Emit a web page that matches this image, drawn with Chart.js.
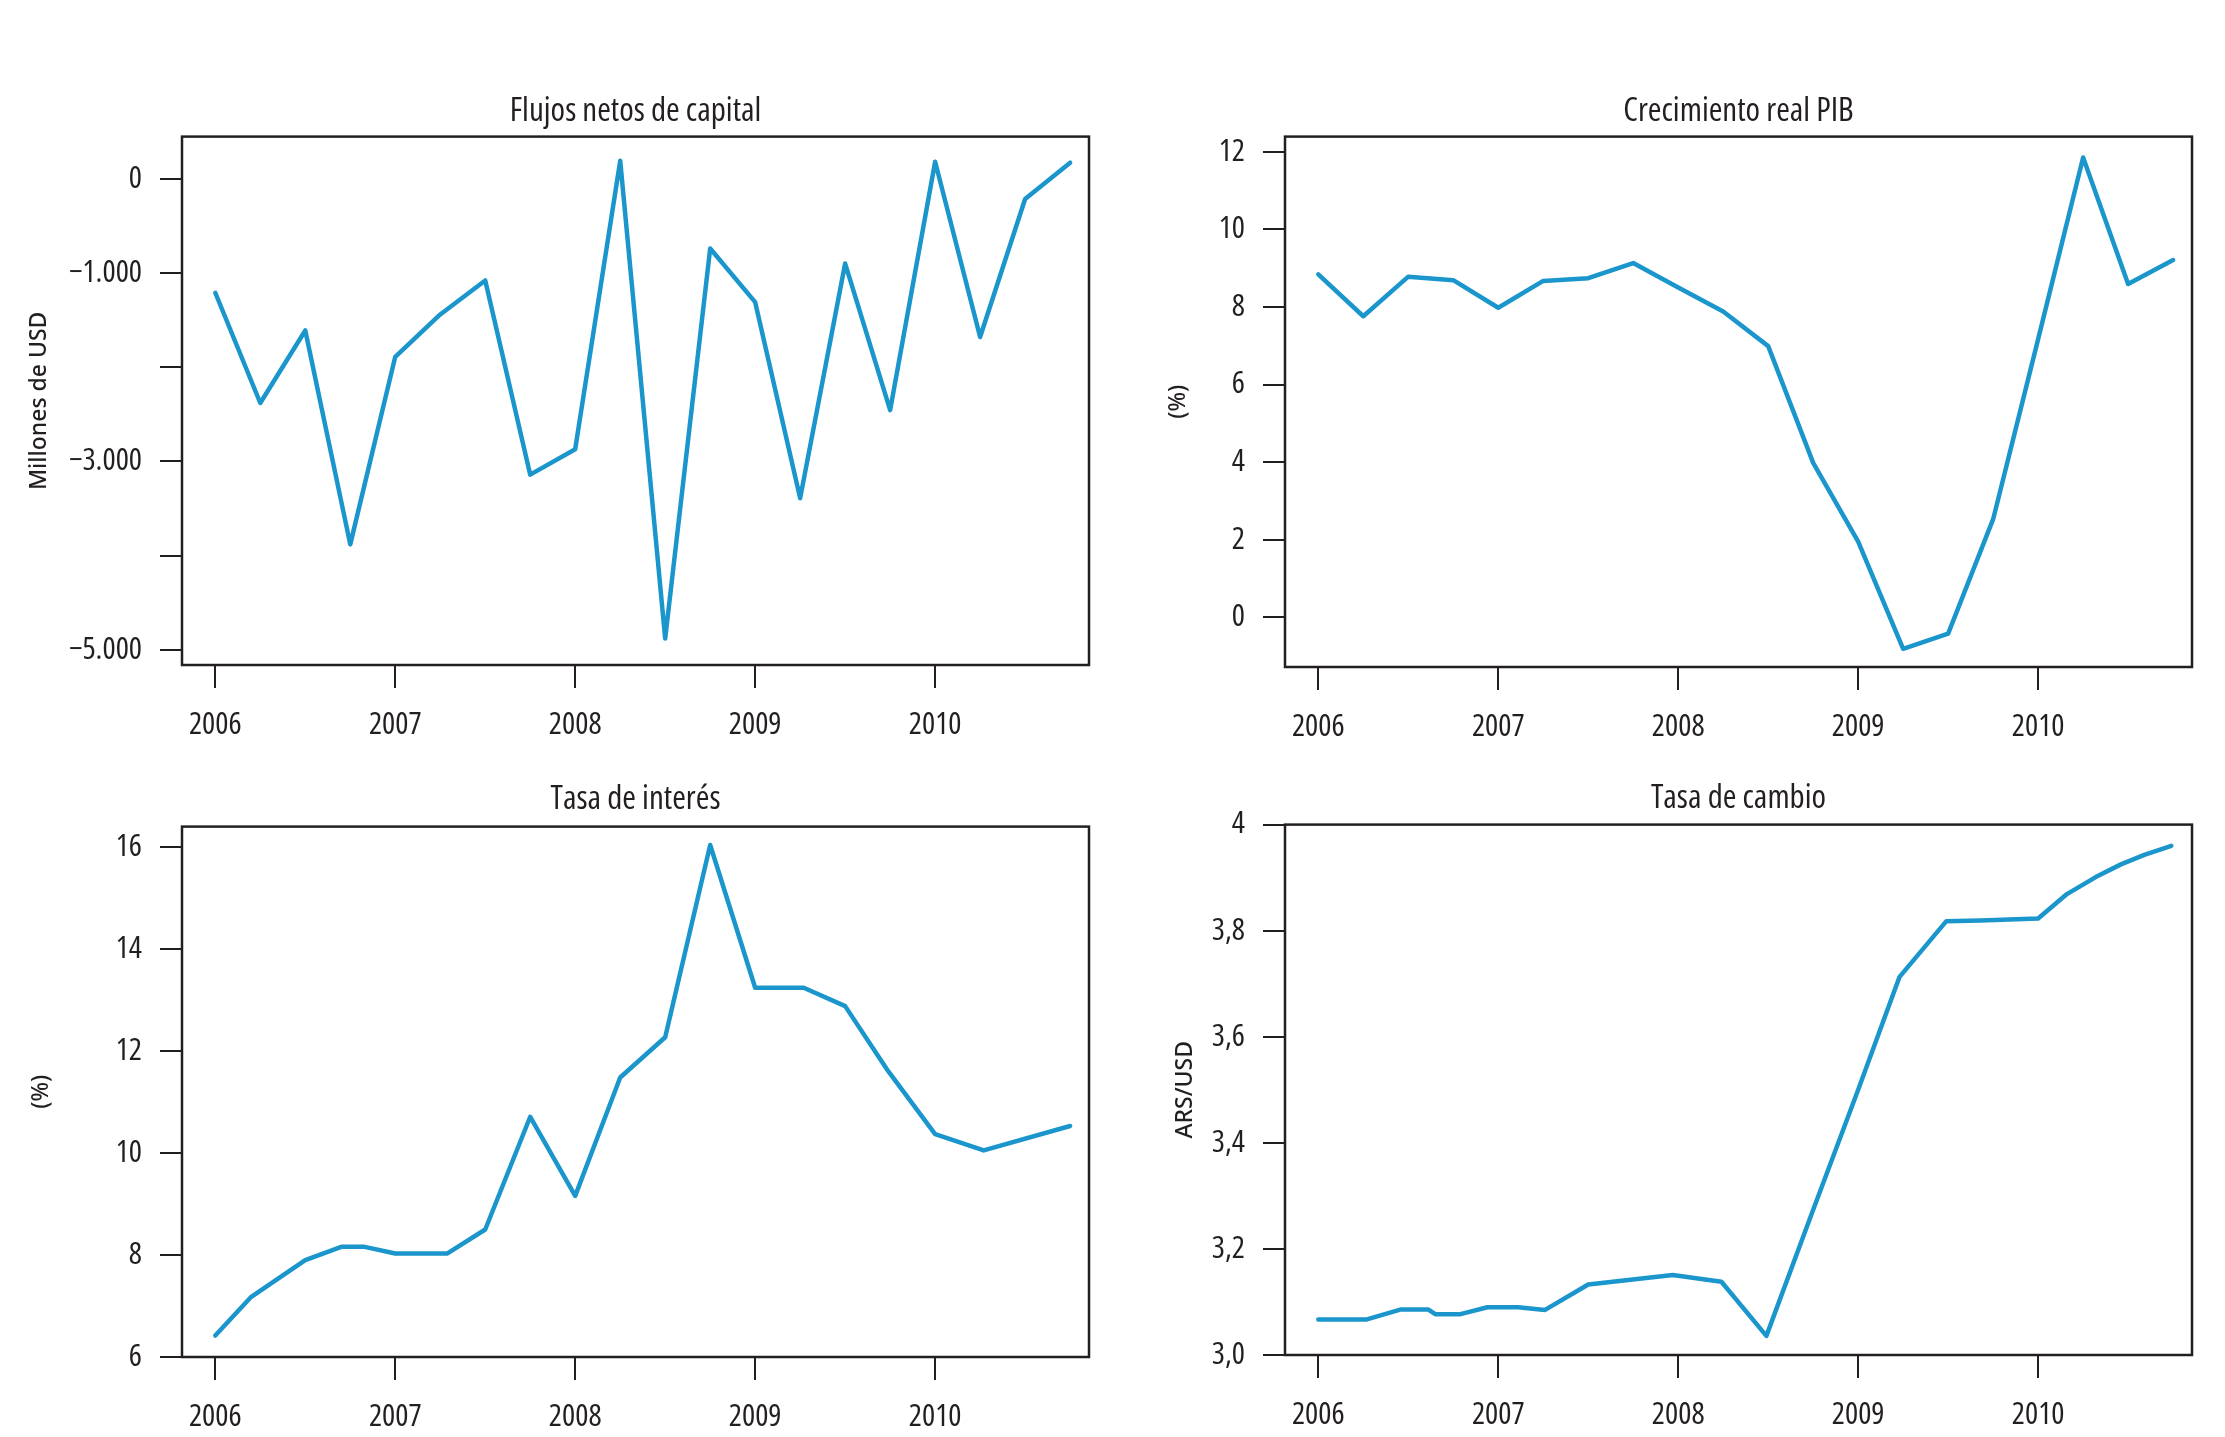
<!DOCTYPE html>
<html>
<head>
<meta charset="utf-8">
<title>Argentina 2006-2010</title>
<script src="https://cdn.jsdelivr.net/npm/chart.js@4.4.1/dist/chart.umd.min.js"></script>
<style>
  body { margin: 0; background: #fff; width: 2225px; height: 1437px; position: relative; overflow: hidden; }
  canvas { position: absolute; }
</style>
</head>
<body>
<canvas id="flujos" width="1112" height="720" style="left:0px;top:40px"></canvas>
<canvas id="pib" width="1113" height="720" style="left:1112px;top:40px"></canvas>
<canvas id="interes" width="1112" height="677" style="left:0px;top:760px"></canvas>
<canvas id="cambio" width="1113" height="677" style="left:1112px;top:760px"></canvas>
<script>
// quarterly dates (decimal years)
var trimestres = [2006, 2006.25, 2006.5, 2006.75, 2007, 2007.25, 2007.5, 2007.75, 2008, 2008.25,
                  2008.5, 2008.75, 2009, 2009.25, 2009.5, 2009.75, 2010, 2010.25, 2010.5, 2010.75];

// Flujos netos de capital (millones de USD)
var flujosCapital = [-1210, -2380, -1610, -3880, -1890, -1440, -1080, -3140, -2870, 190,
                     -4880, -740, -1310, -3390, -900, -2455, 180, -1680, -215, 170];

// Crecimiento real PIB (%)
var pibReal = [8.84, 7.76, 8.78, 8.69, 7.98, 8.67, 8.74, 9.13, 8.5, 7.88,
               6.99, 3.98, 1.95, -0.81, -0.42, 2.53, 7.17, 11.85, 8.59, 9.21];

// Tasa de interés (%)
var interesFechas = [2006, 2006.2, 2006.5, 2006.7, 2006.83, 2007, 2007.29, 2007.5, 2007.75, 2008,
                     2008.25, 2008.5, 2008.75, 2009, 2009.27, 2009.5, 2009.73, 2010, 2010.27, 2010.75];
var tasaInteres = [6.42, 7.18, 7.9, 8.16, 8.16, 8.03, 8.03, 8.5, 10.71, 9.16,
                   11.48, 12.27, 16.04, 13.24, 13.24, 12.88, 11.65, 10.37, 10.05, 10.53];

// Tasa de cambio (ARS/USD)
var cambioFechas = [2006, 2006.27, 2006.46, 2006.61, 2006.65, 2006.79, 2006.94, 2007.11, 2007.26, 2007.5,
                    2007.97, 2008.24, 2008.49, 2008.75, 2009, 2009.23, 2009.49, 2009.68, 2010, 2010.16,
                    2010.32, 2010.46, 2010.59, 2010.74];
var tasaCambio = [3.067, 3.067, 3.086, 3.086, 3.077, 3.077, 3.090, 3.090, 3.085, 3.133,
                  3.151, 3.138, 3.036, 3.274, 3.50, 3.713, 3.818, 3.819, 3.823, 3.869,
                  3.901, 3.925, 3.943, 3.960];

// axis ticks
var anios = [2006, 2007, 2008, 2009, 2010];
var flujosTicks = [0, -1000, -2000, -3000, -4000, -5000];
var flujosLabels = ['0', '\u22121.000', '', '\u22123.000', '', '\u22125.000'];
var pibTicks = [0, 2, 4, 6, 8, 10, 12];
var pibLabels = ['0', '2', '4', '6', '8', '10', '12'];
var interesTicks = [6, 8, 10, 12, 14, 16];
var interesLabels = ['6', '8', '10', '12', '14', '16'];
var cambioTicks = [3.0, 3.2, 3.4, 3.6, 3.8, 4.0];
var cambioLabels = ['3,0', '3,2', '3,4', '3,6', '3,8', '4'];

var LINEA = '#1a96cc';
var TINTA = '#231f20';
var X_MIN = 2005.815, X_MAX = 2010.855;

// look for a narrow face; the original uses a condensed grotesque
var medir = document.createElement('canvas').getContext('2d');
function ancho(font, txt) { medir.font = font; return medir.measureText(txt).width; }
function elegirFuente() {
  var ref = ancho('100px monospace', 'Flujos netos 2006');
  if (Math.abs(ancho("100px 'Liberation Sans Narrow', monospace", 'Flujos netos 2006') - ref) > 1) {
    return {family: "'Liberation Sans Narrow'", pre: ''};
  }
  var fams = ["'Noto Sans'", "'Open Sans'"];
  for (var i = 0; i < fams.length; i++) {
    var normal = ancho('100px ' + fams[i], 'Flujos netos 2006');
    var cond = ancho('condensed 100px ' + fams[i], 'Flujos netos 2006');
    if (cond < normal * 0.9) return {family: fams[i], pre: 'condensed '};
  }
  return {family: "'DejaVu Sans Condensed'", pre: ''};
}
var FUENTE = elegirFuente();
var PESO = FUENTE.pre + '500';
// size so that the text keeps the width it has in the original
function talla(txt, px, tope) {
  var w = ancho(PESO + ' 100px ' + FUENTE.family, txt);
  return Math.min(tope, Math.round(px / w * 100));
}
var TALLA_TICK = talla('2006', 56, 31);
var TALLA_TITULO = talla('Flujos netos de capital', 252, 33);

// frame around the plot region (R style box)
var marco = {
  id: 'marco',
  afterDraw: function(chart) {
    var a = chart.chartArea, ctx = chart.ctx;
    ctx.save();
    ctx.strokeStyle = TINTA;
    ctx.lineWidth = 2.5;
    ctx.strokeRect(a.left, a.top, a.right - a.left, a.bottom - a.top);
    ctx.restore();
  }
};

function panel(id, o) {
  var puntos = o.x.map(function(x, i) { return {x: x, y: o.y[i]}; });
  var fTick = {family: FUENTE.family, weight: PESO, size: TALLA_TICK};
  return new Chart(document.getElementById(id), {
    type: 'line',
    data: {
      datasets: [{
        data: puntos,
        borderColor: LINEA,
        borderWidth: 4.5,
        pointRadius: 0,
        tension: 0,
        borderJoinStyle: 'round',
        borderCapStyle: 'round'
      }]
    },
    options: {
      responsive: false,
      animation: false,
      devicePixelRatio: 1,
      layout: {padding: {left: 0, top: 0, bottom: 0, right: o.right}},
      plugins: {
        legend: {display: false},
        tooltip: {enabled: false},
        title: {
          display: true,
          text: o.titulo,
          fullSize: false,
          color: TINTA,
          font: {family: FUENTE.family, weight: PESO, size: TALLA_TITULO},
          padding: {top: o.tTop, bottom: o.tBottom}
        }
      },
      scales: {
        x: {
          type: 'linear',
          min: X_MIN,
          max: X_MAX,
          afterBuildTicks: function(s) { s.ticks = anios.map(function(v) { return {value: v}; }); },
          afterFit: function(s) { s.height = o.xAlto; },
          border: {display: false},
          grid: {drawOnChartArea: false, drawTicks: true, tickLength: 23, color: TINTA, lineWidth: 2},
          ticks: {
            color: TINTA,
            font: fTick,
            padding: 19,
            maxRotation: 0,
            callback: function(v) { return String(v); }
          }
        },
        y: {
          type: 'linear',
          min: o.min,
          max: o.max,
          afterBuildTicks: function(s) { s.ticks = o.ticks.map(function(v) { return {value: v}; }); },
          afterFit: function(s) { s.width = o.yAncho; },
          border: {display: false},
          grid: {drawOnChartArea: false, drawTicks: true, tickLength: 22, color: TINTA, lineWidth: 2},
          ticks: {
            color: TINTA,
            font: fTick,
            padding: 18,
            callback: function(v, i) { return o.labels[i]; }
          },
          title: {
            display: true,
            text: o.yTitulo,
            color: TINTA,
            font: {family: "'Noto Sans', 'Liberation Sans', sans-serif", weight: '500', size: 23},
            padding: {top: o.yPad, bottom: 0}
          }
        }
      }
    },
    plugins: [marco]
  });
}

panel('flujos', {
  titulo: 'Flujos netos de capital', yTitulo: 'Millones de USD',
  x: trimestres, y: flujosCapital, min: -5160, max: 447,
  ticks: flujosTicks, labels: flujosLabels,
  tTop: 52, tBottom: 5, xAlto: 95, yAncho: 182, right: 23, yPad: 26
});

panel('pib', {
  titulo: 'Crecimiento real PIB', yTitulo: '(%)',
  x: trimestres, y: pibReal, min: -1.28, max: 12.39,
  ticks: pibTicks, labels: pibLabels,
  tTop: 52, tBottom: 5, xAlto: 93, yAncho: 173, right: 33, yPad: 53
});

panel('interes', {
  titulo: 'Tasa de interés', yTitulo: '(%)',
  x: interesFechas, y: tasaInteres, min: 6, max: 16.4,
  ticks: interesTicks, labels: interesLabels,
  tTop: 20, tBottom: 7, xAlto: 80, yAncho: 182, right: 23, yPad: 28
});

panel('cambio', {
  titulo: 'Tasa de cambio', yTitulo: 'ARS/USD',
  x: cambioFechas, y: tasaCambio, min: 3.0, max: 4.0,
  ticks: cambioTicks, labels: cambioLabels,
  tTop: 19, tBottom: 6, xAlto: 82, yAncho: 173, right: 33, yPad: 60
});
</script>
</body>
</html>
